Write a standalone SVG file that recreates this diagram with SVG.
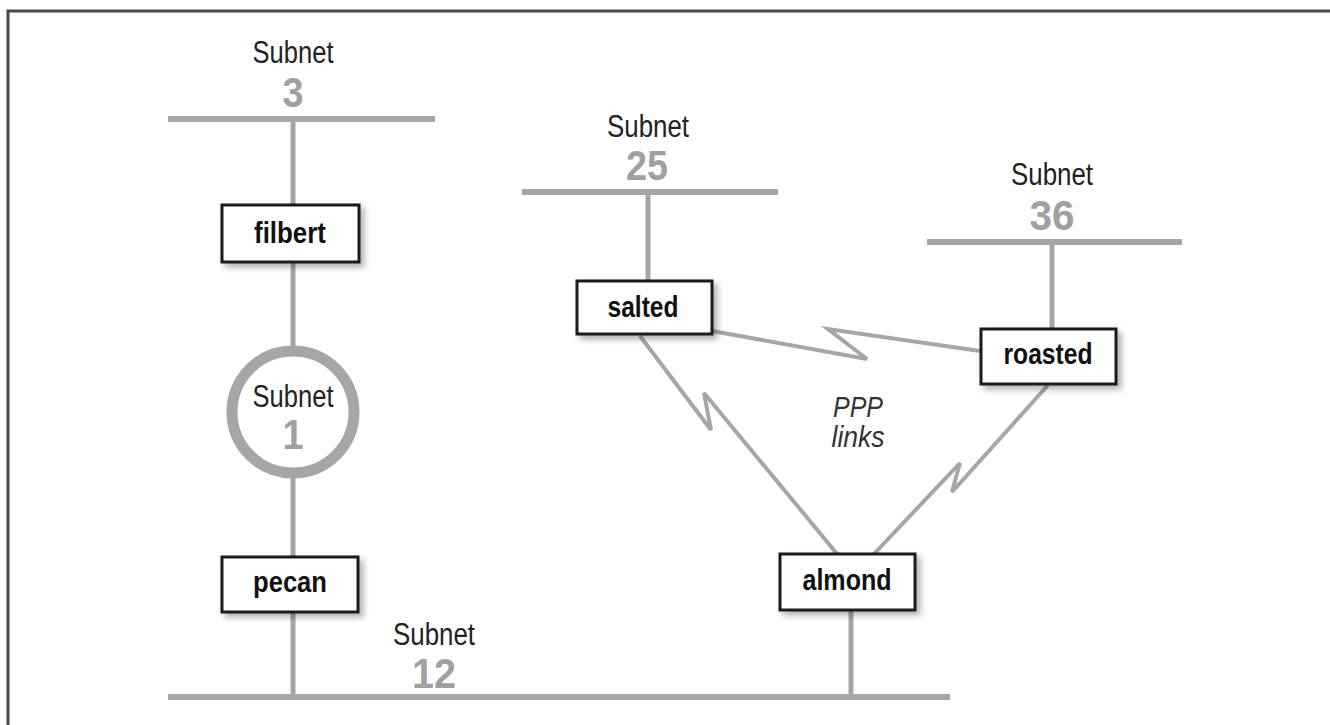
<svg xmlns="http://www.w3.org/2000/svg" width="1330" height="725" viewBox="0 0 1330 725">
<style>
.bus{stroke:#a6a6a6;stroke-width:6;fill:none;stroke-linecap:butt}
.drop{stroke:#a6a6a6;stroke-width:5;fill:none}
.ppp{stroke:#a6a6a6;stroke-width:4;fill:none;stroke-linejoin:miter}
.box{fill:#fff;stroke:#1a1a1a;stroke-width:3}
.lbl{font-family:"Liberation Sans",Arial,sans-serif;font-weight:bold;font-size:29px;fill:#111;text-anchor:middle}
.sub{font-family:"Liberation Sans",Arial,sans-serif;font-size:31px;fill:#222;text-anchor:middle}
.num{font-family:"Liberation Sans",Arial,sans-serif;font-weight:bold;font-size:43px;fill:#a0a0a0;text-anchor:middle}
.ital{font-family:"Liberation Sans",Arial,sans-serif;font-style:italic;font-size:30px;fill:#333;text-anchor:middle}
.frame{stroke:#4a4a4a;stroke-width:3;fill:none}
</style>
<defs>
<filter id="sh" x="-20%" y="-20%" width="150%" height="160%">
<feDropShadow dx="4" dy="4" stdDeviation="3" flood-color="#000" flood-opacity="0.3"/>
</filter>
</defs>
<rect width="1330" height="725" fill="#fff"/>
<path class="frame" d="M8,725 V11 H1330"/>

<g id="subnet-labels">
<g id="subnet3">
<line class="bus" x1="168" y1="119" x2="435" y2="119"/>
<text class="sub" x="293" y="63" textLength="81" lengthAdjust="spacingAndGlyphs">Subnet</text>
<text class="num" x="293" y="107" textLength="21" lengthAdjust="spacingAndGlyphs">3</text>
</g>
<g id="subnet25">
<line class="bus" x1="522" y1="192" x2="778" y2="192"/>
<text class="sub" x="648" y="137" textLength="82" lengthAdjust="spacingAndGlyphs">Subnet</text>
<text class="num" x="647" y="180" textLength="42" lengthAdjust="spacingAndGlyphs">25</text>
</g>
<g id="subnet36">
<line class="bus" x1="927" y1="242" x2="1182" y2="242"/>
<text class="sub" x="1052" y="185" textLength="82" lengthAdjust="spacingAndGlyphs">Subnet</text>
<text class="num" x="1052" y="230" textLength="45" lengthAdjust="spacingAndGlyphs">36</text>
</g>
<g id="subnet12">
<line class="bus" x1="168" y1="697" x2="950" y2="697"/>
<text class="sub" x="434" y="645" textLength="82" lengthAdjust="spacingAndGlyphs">Subnet</text>
<text class="num" x="434" y="688" textLength="44" lengthAdjust="spacingAndGlyphs">12</text>
</g>
</g>

<g id="connectors">
<line class="drop" x1="293" y1="119" x2="293" y2="205"/>
<line class="drop" x1="293" y1="262" x2="293" y2="348"/>
<line class="drop" x1="293" y1="477" x2="293" y2="557"/>
<line class="drop" x1="293" y1="612" x2="293" y2="697"/>
<line class="drop" x1="648" y1="192" x2="648" y2="281"/>
<line class="drop" x1="1052" y1="242" x2="1052" y2="329"/>
<line class="drop" x1="851" y1="610" x2="851" y2="697"/>
<polyline class="ppp" points="712,331 867,359 828,329 980,351"/>
<polyline class="ppp" points="640,336 711,430 704,393 838,555"/>
<polyline class="ppp" points="873,555 960,463 952,492 1048,385"/>
</g>

<g id="subnet1">
<circle cx="293" cy="412" r="61" fill="#fff" stroke="#a6a6a6" stroke-width="11"/>
<text class="sub" x="293" y="407" textLength="81" lengthAdjust="spacingAndGlyphs">Subnet</text>
<text class="num" x="293" y="449" textLength="21" lengthAdjust="spacingAndGlyphs">1</text>
</g>

<g id="filbert">
<rect class="box" x="222" y="205" width="137" height="57" filter="url(#sh)"/>
<text class="lbl" x="290" y="243" textLength="72" lengthAdjust="spacingAndGlyphs">filbert</text>
</g>
<g id="pecan">
<rect class="box" x="222" y="557" width="136" height="55" filter="url(#sh)"/>
<text class="lbl" x="290" y="592" textLength="74" lengthAdjust="spacingAndGlyphs">pecan</text>
</g>
<g id="salted">
<rect class="box" x="577" y="281" width="135" height="53" filter="url(#sh)"/>
<text class="lbl" x="643" y="317" textLength="71" lengthAdjust="spacingAndGlyphs">salted</text>
</g>
<g id="roasted">
<rect class="box" x="981" y="329" width="135" height="55" filter="url(#sh)"/>
<text class="lbl" x="1048" y="364" textLength="89" lengthAdjust="spacingAndGlyphs">roasted</text>
</g>
<g id="almond">
<rect class="box" x="780" y="554" width="135" height="56" filter="url(#sh)"/>
<text class="lbl" x="847" y="590" textLength="89" lengthAdjust="spacingAndGlyphs">almond</text>
</g>

<g id="ppp-label">
<text class="ital" x="858" y="417" textLength="50" lengthAdjust="spacingAndGlyphs">PPP</text>
<text class="ital" x="858" y="447" textLength="53" lengthAdjust="spacingAndGlyphs">links</text>
</g>
</svg>
